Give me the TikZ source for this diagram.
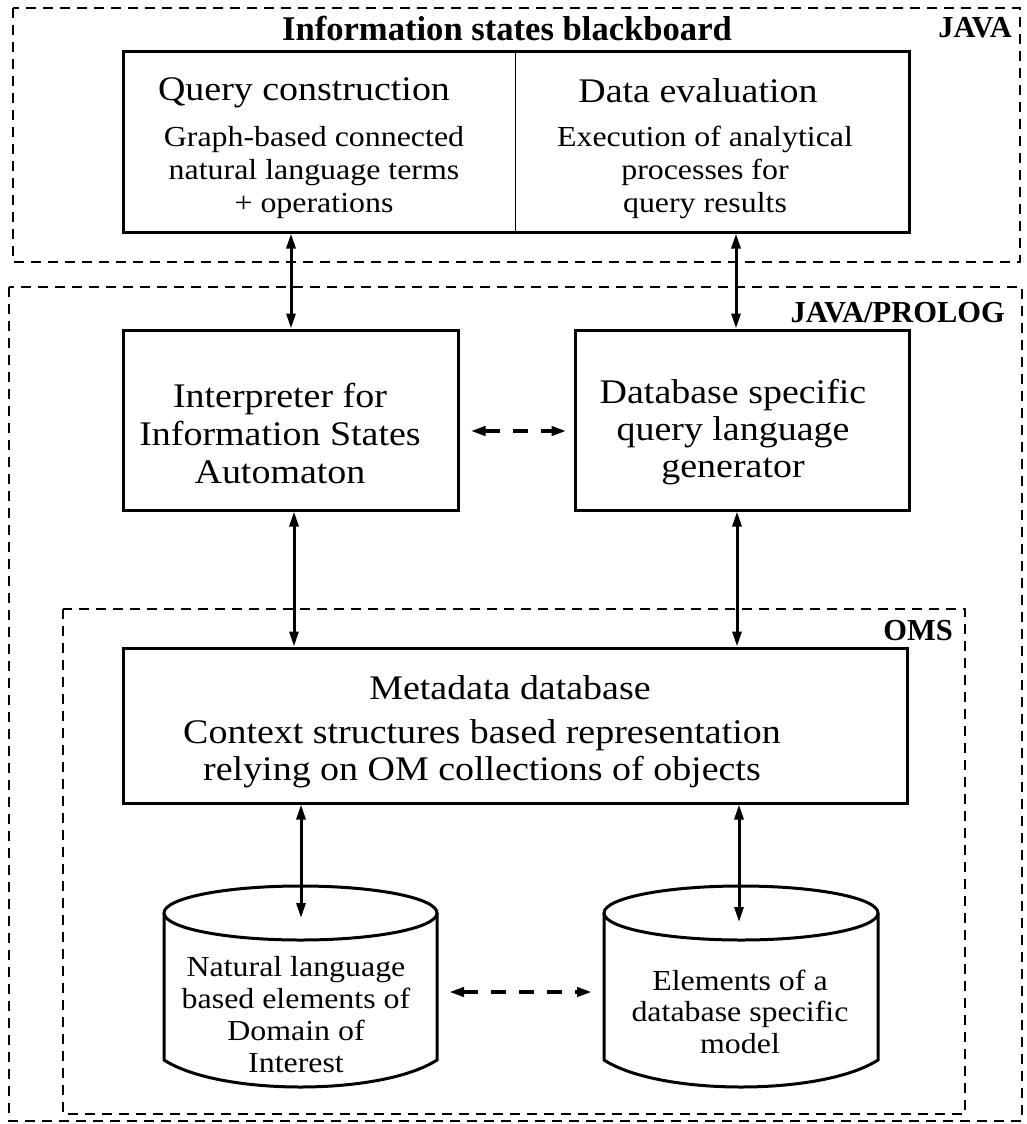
\documentclass[tikz,border=0pt]{standalone}
\usepackage{fontspec}
\setmainfont{Liberation Serif}[FakeStretch=1.1]
\newfontfamily\lblfont{Liberation Serif}
\usetikzlibrary{arrows.meta,calc}
\begin{document}
\begin{tikzpicture}[x=1pt,y=-1pt,
  zone/.style={draw, line width=1.4pt, dash pattern=on 10pt off 7pt},
  box/.style={draw, line width=3pt, inner sep=0pt},
  cyl/.style={draw, line width=3pt},
  dbl/.style={line width=3pt, {Triangle[length=15pt,width=9pt]}-{Triangle[length=15pt,width=9pt]}},
  dsh/.style={dbl, line width=4pt, dash pattern=on 15pt off 13pt},
  bigtxt/.style={font=\fontsize{34.5}{38}\selectfont, inner sep=0pt, align=center},
  smalltxt/.style={font=\fontsize{29}{33}\selectfont, inner sep=0pt, align=center},
  lbl/.style={font=\lblfont\bfseries\fontsize{30.5}{34}\selectfont, inner sep=0pt},
]
\useasboundingbox (0,0) rectangle (1027,1124);

% zones
\draw[zone] (13,8) rectangle (1020,262);
\draw[zone] (9,287) rectangle (1022,1121);
\draw[zone] (63,609) rectangle (965,1114);

% labels
\node[lbl, font=\lblfont\bfseries\fontsize{34.6}{38}\selectfont, anchor=base] (title) at (507,41) {Information states blackboard};
\node[lbl, anchor=base east] (java) at (1012,38) {JAVA};
\node[lbl, anchor=base east] (jp) at (1005,322) {JAVA/PROLOG};
\node[lbl, anchor=base east] (oms) at (953,640) {OMS};

% blackboard
\node[box, minimum width=786pt, minimum height=180pt] (board) at (516,142) {};
\coordinate (div) at (515,0);
\draw[line width=1pt] (board.north -| div) -- (board.south -| div);
\node[bigtxt, anchor=base] (qchead) at (304,100) {Query construction};
\node[smalltxt, anchor=base] (qcsub) at (314,212) {Graph-based connected\\natural language terms\\+ operations};
\node[bigtxt, anchor=base] (dehead) at (698,102) {Data evaluation};
\node[smalltxt, anchor=base] (desub) at (705,212) {Execution of analytical\\processes for\\query results};

% middle boxes
\node[box, minimum width=335pt, minimum height=180pt] (interp) at (290.5,420) {};
\node[bigtxt, anchor=base] (interptxt) at (280,483) {Interpreter for\\Information States\\Automaton};
\node[box, minimum width=334pt, minimum height=180pt] (gen) at (742,420) {};
\node[bigtxt, anchor=base, font=\fontsize{34.5}{37}\selectfont] (gentxt) at (733,477) {Database specific\\query language\\generator};

% metadata
\node[box, minimum width=784pt, minimum height=155pt] (meta) at (515,725.5) {};
\node[bigtxt, anchor=base] (metahead) at (510,699) {Metadata database};
\node[bigtxt, anchor=base, font=\fontsize{34.5}{37}\selectfont] (metasub) at (482,780) {Context structures based representation\\relying on OM collections of objects};

% cylinders
\draw[cyl] (300.5,913) ellipse [x radius=136.5pt, y radius=27pt];
\draw[cyl] (164,913) -- (164,1060) .. controls (220,1096) and (381,1096) .. (437,1060) -- (437,913);
\draw[cyl] (741,913) ellipse [x radius=137pt, y radius=27pt];
\draw[cyl] (604,913) -- (604,1060) .. controls (660,1096) and (822,1096) .. (878,1060) -- (878,913);
\node[smalltxt, font=\fontsize{29}{31.7}\selectfont, anchor=base] (nl) at (296,1072) {Natural language\\based elements of\\Domain of\\Interest};
\node[smalltxt, font=\fontsize{29}{31.5}\selectfont, anchor=base] (el) at (740,1053) {Elements of a\\database specific\\model};
\coordinate (nltop) at (301,918);
\coordinate (eltop) at (739,922);
\coordinate (nlR) at (437,992);
\coordinate (elL) at (604,992);

% connectors
\coordinate (xA) at (291,0);
\coordinate (xB) at (736,0);
\coordinate (xC) at (294,0);
\coordinate (xD) at (737,0);
\coordinate (ym) at (0,431);
\draw[dbl] (board.south -| xA) -- (interp.north -| xA);
\draw[dbl] (board.south -| xB) -- (gen.north -| xB);
\draw[dbl] (interp.south -| xC) -- (meta.north -| xC);
\draw[dbl] (gen.south -| xD) -- (meta.north -| xD);
\draw[dsh] ($(interp.east |- ym)+(11,0)$) -- ($(gen.west |- ym)+(-7,0)$);
\draw[dbl] (meta.south -| nltop) -- (nltop);
\draw[dbl] (meta.south -| eltop) -- (eltop);
\draw[dsh] ($(nlR)+(12,0)$) -- ($(elL)+(-12,0)$);
\end{tikzpicture}
\end{document}
